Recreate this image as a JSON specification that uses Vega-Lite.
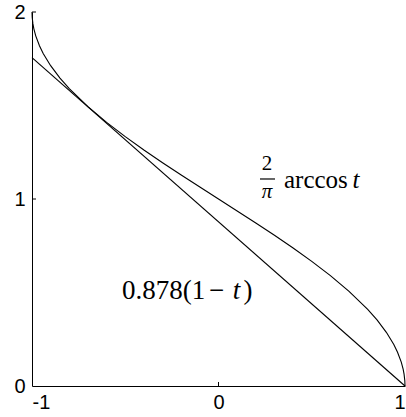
{
  "$schema": "https://vega.github.io/schema/vega-lite/v6.json",
  "width": 373,
  "height": 374,
  "autosize": {"type": "none"},
  "padding": {"left": 32, "top": 12, "right": 1, "bottom": 31},
  "background": "white",
  "config": {
    "view": {"stroke": null},
    "axis": {
      "grid": false,
      "domainColor": "black",
      "domainWidth": 1,
      "ticks": false,
      "labelFont": "Liberation Sans",
      "labelFontSize": 20,
      "labelColor": "black",
      "title": null
    }
  },
  "datasets": {
    "curves": [
      {"t": -1, "v": 2, "s": "arccos"},
      {"t": -0.999, "v": 1.9715, "s": "arccos"},
      {"t": -0.995, "v": 1.9363, "s": "arccos"},
      {"t": -0.99, "v": 1.9099, "s": "arccos"},
      {"t": -0.98, "v": 1.8725, "s": "arccos"},
      {"t": -0.96, "v": 1.8193, "s": "arccos"},
      {"t": -0.94, "v": 1.7783, "s": "arccos"},
      {"t": -0.9, "v": 1.7129, "s": "arccos"},
      {"t": -0.85, "v": 1.6468, "s": "arccos"},
      {"t": -0.8, "v": 1.5903, "s": "arccos"},
      {"t": -0.7, "v": 1.4936, "s": "arccos"},
      {"t": -0.6, "v": 1.4097, "s": "arccos"},
      {"t": -0.5, "v": 1.3333, "s": "arccos"},
      {"t": -0.4, "v": 1.262, "s": "arccos"},
      {"t": -0.3, "v": 1.194, "s": "arccos"},
      {"t": -0.2, "v": 1.1282, "s": "arccos"},
      {"t": -0.1, "v": 1.0638, "s": "arccos"},
      {"t": 0, "v": 1, "s": "arccos"},
      {"t": 0.1, "v": 0.9362, "s": "arccos"},
      {"t": 0.2, "v": 0.8718, "s": "arccos"},
      {"t": 0.3, "v": 0.806, "s": "arccos"},
      {"t": 0.4, "v": 0.738, "s": "arccos"},
      {"t": 0.5, "v": 0.6667, "s": "arccos"},
      {"t": 0.6, "v": 0.5903, "s": "arccos"},
      {"t": 0.7, "v": 0.5064, "s": "arccos"},
      {"t": 0.8, "v": 0.4097, "s": "arccos"},
      {"t": 0.85, "v": 0.3532, "s": "arccos"},
      {"t": 0.9, "v": 0.2871, "s": "arccos"},
      {"t": 0.94, "v": 0.2217, "s": "arccos"},
      {"t": 0.96, "v": 0.1807, "s": "arccos"},
      {"t": 0.98, "v": 0.1275, "s": "arccos"},
      {"t": 0.99, "v": 0.0901, "s": "arccos"},
      {"t": 0.995, "v": 0.0637, "s": "arccos"},
      {"t": 0.999, "v": 0.0285, "s": "arccos"},
      {"t": 1, "v": 0, "s": "arccos"},
      {"t": -1, "v": 1.756, "s": "linear"},
      {"t": 1, "v": 0, "s": "linear"}
    ],
    "ticks": [
      {"t": 0, "t2": 0, "v": 0, "v2": 0.0214},
      {"t": -1, "t2": -0.9786, "v": 1, "v2": 1},
      {"t": -1, "t2": -0.9786, "v": 2, "v2": 2}
    ],
    "labels": [
      {"g": "lin_left", "t": -0.5174, "v": 0.4652, "label": "0.878(1"},
      {"g": "lin_center", "t": -0.0107, "v": 0.4652, "label": "−"},
      {"g": "lin_italic", "t": 0.0965, "v": 0.4652, "label": "t"},
      {"g": "lin_center", "t": 0.1582, "v": 0.4652, "label": ")"},
      {"g": "arc_left", "t": 0.3512, "v": 1.0572, "label": "arccos"},
      {"g": "arc_italic", "t": 0.7373, "v": 1.0572, "label": "t"},
      {"g": "frac_num", "t": 0.26, "v": 1.155, "label": "2"},
      {"g": "frac_den", "t": 0.26, "v": 1.0053, "label": "π"}
    ],
    "bar": [
      {"t": 0.2225, "t2": 0.3029, "v": 1.107}
    ]
  },
  "layer": [
    {
      "data": {"name": "curves"},
      "mark": {"type": "line", "color": "black", "strokeWidth": 1.1},
      "encoding": {
        "x": {"field": "t", "type": "quantitative", "scale": {"domain": [-1, 1], "nice": false, "zero": false}, "axis": {"values": [-1, 0, 1], "labelExpr": "toString(datum.value)", "labelPadding": 6}},
        "y": {"field": "v", "type": "quantitative", "scale": {"domain": [0, 2], "nice": false}, "axis": {"values": [0, 1, 2], "labelExpr": "toString(datum.value)", "labelPadding": 7}},
        "detail": {"field": "s"},
        "order": {"field": "t", "type": "quantitative"}
      }
    },
    {
      "data": {"name": "ticks"},
      "mark": {"type": "rule", "color": "black", "strokeWidth": 1},
      "encoding": {
        "x": {"field": "t", "type": "quantitative"},
        "x2": {"field": "t2"},
        "y": {"field": "v", "type": "quantitative"},
        "y2": {"field": "v2"}
      }
    },
    {
      "data": {"name": "labels"},
      "transform": [{"filter": "datum.g == 'lin_left'"}],
      "mark": {"type": "text", "font": "Liberation Serif", "fontSize": 27, "color": "black", "baseline": "alphabetic", "align": "left"},
      "encoding": {"x": {"field": "t", "type": "quantitative"}, "y": {"field": "v", "type": "quantitative"}, "text": {"field": "label"}}
    },
    {
      "data": {"name": "labels"},
      "transform": [{"filter": "datum.g == 'lin_center'"}],
      "mark": {"type": "text", "font": "Liberation Serif", "fontSize": 27, "color": "black", "baseline": "alphabetic", "align": "center"},
      "encoding": {"x": {"field": "t", "type": "quantitative"}, "y": {"field": "v", "type": "quantitative"}, "text": {"field": "label"}}
    },
    {
      "data": {"name": "labels"},
      "transform": [{"filter": "datum.g == 'lin_italic'"}],
      "mark": {"type": "text", "font": "Liberation Serif", "fontStyle": "italic", "fontSize": 27, "color": "black", "baseline": "alphabetic", "align": "center"},
      "encoding": {"x": {"field": "t", "type": "quantitative"}, "y": {"field": "v", "type": "quantitative"}, "text": {"field": "label"}}
    },
    {
      "data": {"name": "labels"},
      "transform": [{"filter": "datum.g == 'arc_left'"}],
      "mark": {"type": "text", "font": "Liberation Serif", "fontSize": 25, "color": "black", "baseline": "alphabetic", "align": "left"},
      "encoding": {"x": {"field": "t", "type": "quantitative"}, "y": {"field": "v", "type": "quantitative"}, "text": {"field": "label"}}
    },
    {
      "data": {"name": "labels"},
      "transform": [{"filter": "datum.g == 'arc_italic'"}],
      "mark": {"type": "text", "font": "Liberation Serif", "fontStyle": "italic", "fontSize": 25, "color": "black", "baseline": "alphabetic", "align": "center"},
      "encoding": {"x": {"field": "t", "type": "quantitative"}, "y": {"field": "v", "type": "quantitative"}, "text": {"field": "label"}}
    },
    {
      "data": {"name": "labels"},
      "transform": [{"filter": "datum.g == 'frac_num'"}],
      "mark": {"type": "text", "font": "Liberation Serif", "fontSize": 21, "color": "black", "baseline": "alphabetic", "align": "center"},
      "encoding": {"x": {"field": "t", "type": "quantitative"}, "y": {"field": "v", "type": "quantitative"}, "text": {"field": "label"}}
    },
    {
      "data": {"name": "labels"},
      "transform": [{"filter": "datum.g == 'frac_den'"}],
      "mark": {"type": "text", "font": "Liberation Serif", "fontStyle": "italic", "fontSize": 21, "color": "black", "baseline": "alphabetic", "align": "center"},
      "encoding": {"x": {"field": "t", "type": "quantitative"}, "y": {"field": "v", "type": "quantitative"}, "text": {"field": "label"}}
    },
    {
      "data": {"name": "bar"},
      "mark": {"type": "rule", "color": "black", "strokeWidth": 1.2},
      "encoding": {
        "x": {"field": "t", "type": "quantitative"},
        "x2": {"field": "t2"},
        "y": {"field": "v", "type": "quantitative"}
      }
    }
  ]
}
